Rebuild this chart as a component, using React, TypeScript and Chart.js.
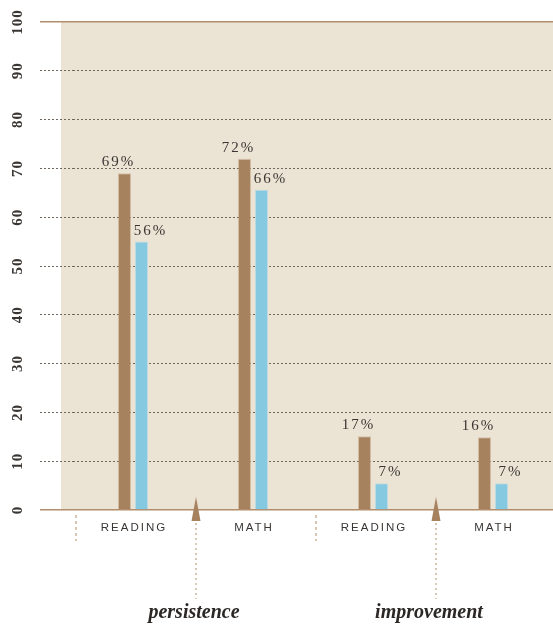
import React, { useEffect, useRef } from 'react';
import Chart from 'chart.js/auto';

const categories = ['READING', 'MATH', 'READING', 'MATH'];
const groupNames = ['persistence', 'improvement'];
const brownValues = [69, 72, 15.1, 14.9];
const blueValues = [55, 65.6, 5.5, 5.5];
const brownLabels = ['69%', '72%', '17%', '16%'];
const blueLabels = ['56%', '66%', '7%', '7%'];
const yMin = 0;
const yMax = 100;
const yStep = 10;

const BROWN = '#a6825f';
const BLUE = '#85c9e1';
const BEIGE = '#ebe3d3';
const LINE_BROWN = '#b28e6c';
const GRID_GRAY = '#6e655c';
const TEXT = '#3a3633';

const decorPlugin = {
  id: 'decor',
  beforeDraw(chart: any) {
    const { ctx, chartArea } = chart;
    ctx.save();
    ctx.fillStyle = BEIGE;
    const left = chartArea.left - 12;
    ctx.fillRect(left, chartArea.top, chartArea.right - left, chartArea.bottom - chartArea.top);
    ctx.restore();
  },
  afterDraw(chart: any) {
    const { ctx, chartArea } = chart;
    const xs = chart.scales.x;
    const ys = chart.scales.y;
    ctx.save();

    // y tick labels, rotated
    ctx.fillStyle = TEXT;
    ctx.font = 'bold 15px "Liberation Serif", serif';
    ctx.textAlign = 'center';
    ctx.textBaseline = 'middle';
    (ctx as any).letterSpacing = '1px';
    ys.ticks.forEach((t: any) => {
      const y = ys.getPixelForValue(t.value);
      ctx.save();
      ctx.translate(18, y);
      ctx.rotate(-Math.PI / 2);
      ctx.fillText(String(t.value), 0, 0);
      ctx.restore();
    });

    // value labels
    ctx.font = '15px "Liberation Serif", serif';
    ctx.textBaseline = 'alphabetic';
    (ctx as any).letterSpacing = '2px';
    const metaA = chart.getDatasetMeta(0);
    const metaB = chart.getDatasetMeta(1);
    metaA.data.forEach((el: any, i: number) => {
      ctx.fillText(brownLabels[i], el.x - 6, el.y - 7);
    });
    metaB.data.forEach((el: any, i: number) => {
      ctx.fillText(blueLabels[i], el.x + 9, el.y - 7);
    });

    // category labels
    ctx.font = '11.5px "Liberation Sans", Arial, sans-serif';
    (ctx as any).letterSpacing = '2px';
    ctx.textBaseline = 'middle';
    categories.forEach((c, i) => {
      const x = xs.getPixelForValue(i);
      ctx.fillText(c, x + 1, chartArea.bottom + 18);
    });
    (ctx as any).letterSpacing = '0px';

    // separators
    const catW = xs.getPixelForValue(1) - xs.getPixelForValue(0);
    const shift = 3;
    const labelShift = [-2, -7];
    for (let i = 0; i < categories.length; i++) {
      const bx = xs.getPixelForValue(i) - catW / 2 + shift;
      if (i % 2 === 0) {
        ctx.strokeStyle = LINE_BROWN;
        ctx.lineWidth = 1;
        ctx.setLineDash([3, 3]);
        ctx.beginPath();
        ctx.moveTo(bx, chartArea.bottom + 5);
        ctx.lineTo(bx, chartArea.bottom + 31);
        ctx.stroke();
      } else {
        ctx.setLineDash([]);
        ctx.fillStyle = BROWN;
        ctx.beginPath();
        ctx.moveTo(bx, chartArea.bottom - 13);
        ctx.lineTo(bx + 4.5, chartArea.bottom + 11);
        ctx.lineTo(bx - 4.5, chartArea.bottom + 11);
        ctx.closePath();
        ctx.fill();
        ctx.strokeStyle = LINE_BROWN;
        ctx.lineWidth = 1;
        ctx.setLineDash([2, 3]);
        ctx.beginPath();
        ctx.moveTo(bx, chartArea.bottom + 13);
        ctx.lineTo(bx, chartArea.bottom + 89);
        ctx.stroke();
        ctx.setLineDash([]);
        ctx.fillStyle = '#2b2724';
        ctx.font = 'italic bold 20px "Liberation Serif", serif';
        ctx.textAlign = 'center';
        ctx.textBaseline = 'alphabetic';
        const g = (i - 1) / 2;
        ctx.fillText(groupNames[g], bx + labelShift[g], chartArea.bottom + 108);
        ctx.fillStyle = TEXT;
      }
    }
    ctx.restore();
  },
};

const isEdge = (v: number) => v === yMin || v === yMax;

export default function App() {
  const ref = useRef<HTMLCanvasElement | null>(null);
  useEffect(() => {
    if (!ref.current) return;
    const chart = new Chart(ref.current, {
      type: 'bar',
      data: {
        labels: categories,
        datasets: [
          {
            data: brownValues,
            backgroundColor: BROWN,
            borderColor: 'rgba(200,170,140,0.6)',
            borderWidth: 1,
            categoryPercentage: 0.2833,
            barPercentage: 0.78,
          },
          {
            data: blueValues,
            backgroundColor: BLUE,
            borderColor: 'rgba(160,215,235,0.6)',
            borderWidth: 1,
            categoryPercentage: 0.2833,
            barPercentage: 0.78,
          },
        ],
      },
      options: {
        animation: false,
        responsive: true,
        maintainAspectRatio: false,
        layout: { padding: { left: 40, top: 22, right: 0, bottom: 116 } },
        plugins: { legend: { display: false }, tooltip: { enabled: false } },
        scales: {
          x: { display: false },
          y: {
            position: 'left',
            min: yMin,
            max: yMax,
            ticks: { display: false, stepSize: yStep },
            border: {
              display: false,
              dash: (ctx: any) => (isEdge(ctx.tick?.value) ? [] : [2, 2]),
            },
            grid: {
              drawTicks: true,
              tickLength: 33,
              color: (ctx: any) => (isEdge(ctx.tick?.value) ? LINE_BROWN : GRID_GRAY),
              tickColor: (ctx: any) => (isEdge(ctx.tick?.value) ? LINE_BROWN : GRID_GRAY),
              lineWidth: (ctx: any) => (isEdge(ctx.tick?.value) ? 1.5 : 1),
              tickWidth: (ctx: any) => (isEdge(ctx.tick?.value) ? 1.5 : 1),
              tickBorderDash: (ctx: any) => (isEdge(ctx.tick?.value) ? [] : [2, 2]),
            },
          },
        },
      },
      plugins: [decorPlugin],
    } as any);
    return () => chart.destroy();
  }, []);
  return (
    <div style={{ position: 'absolute', left: 0, top: 0, width: 553, height: 626 }}>
      <canvas ref={ref} />
    </div>
  );
}
